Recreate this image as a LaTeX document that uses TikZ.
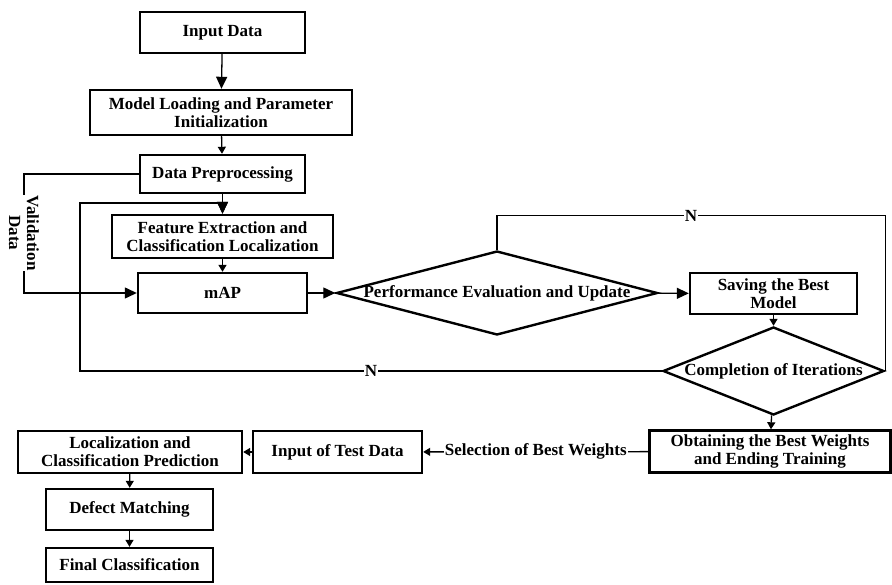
\documentclass[tikz,border=0pt]{standalone}
\usepackage{fontspec}
\setmainfont{Liberation Serif}
\usetikzlibrary{arrows.meta,shapes.geometric}

\begin{document}
\begin{tikzpicture}[x=1pt,y=-1pt,
        every node/.style={font=\bfseries\fontsize{17}{18}\selectfont},
        box/.style={draw, line width=2.4pt, minimum width=#1pt, minimum height=41pt, inner sep=0pt, align=center},
        box/.default=167,
        dia/.style={draw, diamond, line width=2.4pt, inner sep=0pt},
        arr/.style={-{Triangle[length=12pt,width=11pt]}, line width=1.3pt},
        arrs/.style={-{Triangle[length=7pt,width=8pt]}, line width=1.3pt},
        lbl/.style={fill=white, inner sep=1pt},
    ]
    \useasboundingbox (0,0) rectangle (892,585);
    % training part
    \node[box=165] (in) at (222.5,32.5) {Input Data};
    \node[box=262, minimum height=45pt] (ml) at (221,112.5) {Model Loading and Parameter\\Initialization};
    \node[box=165, minimum height=38pt] (dp) at (222.5,174) {Data Preprocessing};
    \node[box=221, minimum height=43pt] (fe) at (222.5,236.5) {Feature Extraction and\\Classification Localization};
    \node[box=169, minimum height=40pt] (map) at (222.5,293) {mAP};
    \node[dia, minimum width=321pt, minimum height=84pt, label=center:{Performance Evaluation and Update}] (ped) at (497,293) {};
    \node[box] (sbm) at (773.5,293.5) {Saving the Best\\Model};
    \node[dia, minimum width=221pt, minimum height=88pt, label=center:{Completion of Iterations}] (ci) at (773.5,371) {};
    \node[box=241, minimum height=42pt] (obt) at (770,451.5) {Obtaining the Best Weights\\and Ending Training};
    % test part
    \node[box=169, minimum height=42pt] (itd) at (337.5,452) {Input of Test Data};
    \node[box=224, minimum height=42pt] (loc) at (130,452) {Localization and\\Classification Prediction};
    \node[box] (dm) at (129.5,509.5) {Defect Matching};
    \node[box, minimum height=34pt] (fc) at (129.5,565) {Final Classification};
    \coordinate (fb) at (80,203);

    \draw[arr] (in) -- (ml);
    \draw[arrs] (ml) -- (dp);
    \draw[arr] (dp) -- (fe);
    \draw[arrs] (fe) -- (map);
    % validation data
    \draw[arr] (dp.west) -| (24,233) node[lbl, rotate=-90, align=center]{Validation\\Data} |- (map.west);
    \draw[arr] (map) -- (ped);
    \draw[arr] (ped) -- (sbm);
    \draw[arrs] (sbm) -- (ci);
    \draw[arrs] (ci) -- (obt);
    % loops
    \draw[line width=1.3pt] (ped.north) -- ++(0,-34) -| node[lbl, pos=0.25]{N} (ci.east);
    \draw[arr] (ci.west) -| node[lbl, pos=0.25]{N} (fb) -| (fe.north);
    % test
    \draw[arrs] (obt) -- node[lbl]{Selection of Best Weights} (itd);
    \draw[arrs] (itd) -- (loc);
    \draw[arrs] (loc) -- (dm);
    \draw[arrs] (dm) -- (fc);
\end{tikzpicture}
\end{document}
